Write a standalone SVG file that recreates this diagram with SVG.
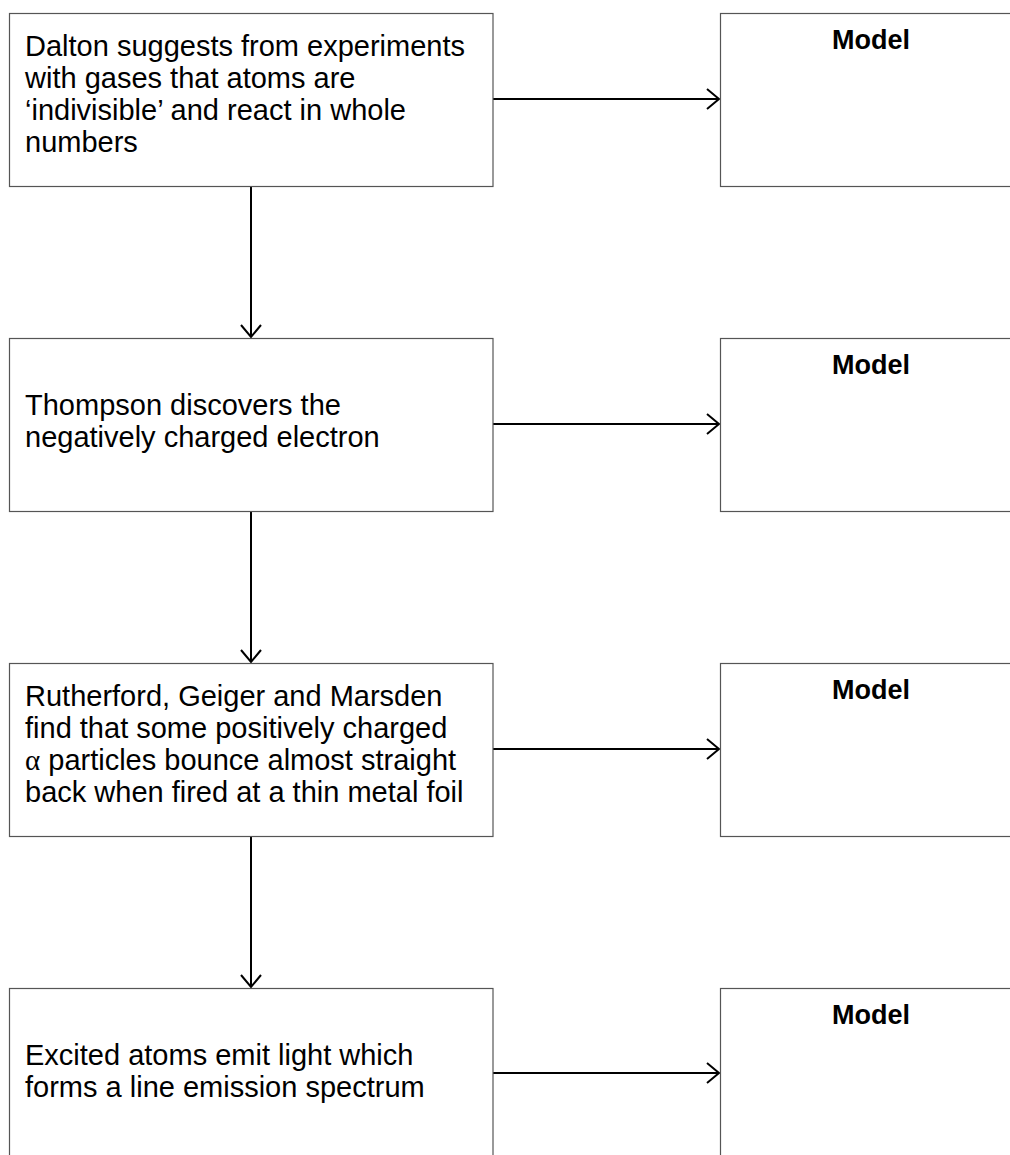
<svg xmlns="http://www.w3.org/2000/svg" width="1010" height="1155" viewBox="0 0 1010 1155">
<style>
.box{fill:#fff;stroke:#555;stroke-width:1.2}
.t{font-family:"Liberation Sans",Arial,Helvetica,sans-serif;font-size:29px;fill:#000}
.m{font-family:"Liberation Sans",Arial,Helvetica,sans-serif;font-size:27px;font-weight:bold;fill:#000;text-anchor:middle}
.g{font-family:"Liberation Serif","Times New Roman",serif}
.c{stroke:#000;stroke-width:2;fill:none}
</style>
<defs>
<marker id="ah" markerUnits="userSpaceOnUse" markerWidth="30" markerHeight="30" viewBox="-15 -15 30 30" refX="0" refY="0" orient="auto">
<path d="M-12,-10 L0,0 L-12,10" fill="none" stroke="#000" stroke-width="2"/>
</marker>
</defs>
<rect width="1010" height="1155" fill="#fff"/>
<g id="connectors">
<line class="c" x1="493" y1="99" x2="719" y2="99" marker-end="url(#ah)"/>
<line class="c" x1="251" y1="187" x2="251" y2="337" marker-end="url(#ah)"/>
<line class="c" x1="493" y1="424" x2="719" y2="424" marker-end="url(#ah)"/>
<line class="c" x1="251" y1="512" x2="251" y2="662" marker-end="url(#ah)"/>
<line class="c" x1="493" y1="749" x2="719" y2="749" marker-end="url(#ah)"/>
<line class="c" x1="251" y1="837" x2="251" y2="987" marker-end="url(#ah)"/>
<line class="c" x1="493" y1="1073" x2="719" y2="1073" marker-end="url(#ah)"/>
</g>
<g id="n1">
<rect class="box" x="9.5" y="13.5" width="483.5" height="173"/>
<text class="t" x="25" y="56">Dalton suggests from experiments</text>
<text class="t" x="25" y="88">with gases that atoms are</text>
<text class="t" x="25" y="120">‘indivisible’ and react in whole</text>
<text class="t" x="25" y="152">numbers</text>
</g>
<g id="m1">
<rect class="box" x="720.5" y="13.5" width="300" height="173"/>
<text class="m" x="871" y="49">Model</text>
</g>
<g id="n2">
<rect class="box" x="9.5" y="338.5" width="483.5" height="173"/>
<text class="t" x="25" y="415">Thompson discovers the</text>
<text class="t" x="25" y="447">negatively charged electron</text>
</g>
<g id="m2">
<rect class="box" x="720.5" y="338.5" width="300" height="173"/>
<text class="m" x="871" y="374">Model</text>
</g>
<g id="n3">
<rect class="box" x="9.5" y="663.5" width="483.5" height="173"/>
<text class="t" x="25" y="706">Rutherford, Geiger and Marsden</text>
<text class="t" x="25" y="738">find that some positively charged</text>
<text class="t" x="25" y="770"><tspan class="g">α</tspan> particles bounce almost straight</text>
<text class="t" x="25" y="802">back when fired at a thin metal foil</text>
</g>
<g id="m3">
<rect class="box" x="720.5" y="663.5" width="300" height="173"/>
<text class="m" x="871" y="699">Model</text>
</g>
<g id="n4">
<rect class="box" x="9.5" y="988.5" width="483.5" height="200"/>
<text class="t" x="25" y="1065">Excited atoms emit light which</text>
<text class="t" x="25" y="1097">forms a line emission spectrum</text>
</g>
<g id="m4">
<rect class="box" x="720.5" y="988.5" width="300" height="200"/>
<text class="m" x="871" y="1024">Model</text>
</g>
</svg>
